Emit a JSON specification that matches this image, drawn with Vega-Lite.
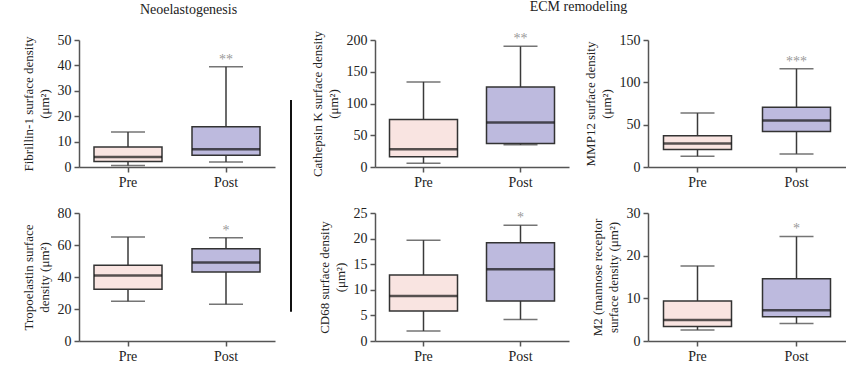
{
  "$schema": "https://vega.github.io/schema/vega-lite/v6.json",
  "background": "white",
  "padding": {"left": 21, "top": 0, "right": 0, "bottom": 0},
  "datasets": {
    "boxes": [
      {"panel": "Fibrillin", "group": "Pre", "min": 0.6, "q1": 2.2, "median": 3.9, "q3": 7.9, "max": 13.8, "sig": ""},
      {"panel": "Fibrillin", "group": "Post", "min": 2, "q1": 4.6, "median": 7, "q3": 15.8, "max": 39.5, "sig": "**"},
      {"panel": "Tropoelastin", "group": "Pre", "min": 24.8, "q1": 32.3, "median": 41, "q3": 47.3, "max": 65, "sig": ""},
      {"panel": "Tropoelastin", "group": "Post", "min": 23, "q1": 43.1, "median": 49, "q3": 57.7, "max": 64.6, "sig": "*"},
      {"panel": "CathepsinK", "group": "Pre", "min": 6, "q1": 16, "median": 28, "q3": 75, "max": 134, "sig": ""},
      {"panel": "CathepsinK", "group": "Post", "min": 35, "q1": 37, "median": 70, "q3": 126, "max": 190, "sig": "**"},
      {"panel": "CD68", "group": "Pre", "min": 1.95, "q1": 5.85, "median": 8.8, "q3": 12.9, "max": 19.7, "sig": ""},
      {"panel": "CD68", "group": "Post", "min": 4.2, "q1": 7.8, "median": 14, "q3": 19.2, "max": 22.6, "sig": "*"},
      {"panel": "MMP12", "group": "Pre", "min": 12.7, "q1": 20.7, "median": 27.8, "q3": 37, "max": 63.7, "sig": ""},
      {"panel": "MMP12", "group": "Post", "min": 15.5, "q1": 41.8, "median": 55, "q3": 70.5, "max": 116, "sig": "***"},
      {"panel": "M2", "group": "Pre", "min": 2.6, "q1": 3.4, "median": 4.9, "q3": 9.4, "max": 17.6, "sig": ""},
      {"panel": "M2", "group": "Post", "min": 4.1, "q1": 5.7, "median": 7.2, "q3": 14.6, "max": 24.5, "sig": "*"}
    ],
    "separator": [{"pos": 0.25, "start": 0.2, "end": 0.906}]
  },
  "data": {"name": "boxes"},
  "spacing": 14,
  "hconcat": [
    {
      "title": {"text": "Neoelastogenesis", "anchor": "middle", "dx": 40, "offset": 16},
      "spacing": 17,
      "vconcat": [
        {
          "width": 196, "height": 127,
          "transform": [{"filter": {"field": "panel", "equal": "Fibrillin"}}],
          "encoding": {"x": {"field": "group", "type": "nominal", "sort": ["Pre", "Post"], "scale": {"paddingInner": 0, "paddingOuter": 0}, "axis": {"title": null, "labelAngle": 0}}},
          "layer": [
            {"mark": {"type": "rule", "color": "#3a3a3a", "strokeWidth": 1.5}, "encoding": {"y": {"field": "min", "type": "quantitative", "scale": {"domain": [0, 50], "nice": false}, "axis": {"title": ["Fibrillin-1 surface density", "(μm²)"], "values": [0, 10, 20, 30, 40, 50]}}, "y2": {"field": "max"}}},
            {"mark": {"type": "bar", "size": 68, "stroke": "#333", "strokeWidth": 1.5}, "encoding": {"y": {"field": "q1", "type": "quantitative", "axis": {"title": ["Fibrillin-1 surface density", "(μm²)"], "values": [0, 10, 20, 30, 40, 50]}}, "y2": {"field": "q3"}, "fill": {"field": "group", "type": "nominal", "scale": {"domain": ["Pre", "Post"], "range": ["#f9e4e1", "#bdbade"]}, "legend": null}}},
            {"mark": {"type": "tick", "color": "#111", "thickness": 2.5, "size": 68}, "encoding": {"y": {"field": "median", "type": "quantitative", "axis": {"title": ["Fibrillin-1 surface density", "(μm²)"], "values": [0, 10, 20, 30, 40, 50]}}}},
            {"mark": {"type": "tick", "color": "#3a3a3a", "thickness": 1.5, "size": 34}, "encoding": {"y": {"field": "min", "type": "quantitative", "axis": {"title": ["Fibrillin-1 surface density", "(μm²)"], "values": [0, 10, 20, 30, 40, 50]}}}},
            {"mark": {"type": "tick", "color": "#3a3a3a", "thickness": 1.5, "size": 34}, "encoding": {"y": {"field": "max", "type": "quantitative", "axis": {"title": ["Fibrillin-1 surface density", "(μm²)"], "values": [0, 10, 20, 30, 40, 50]}}}},
            {"mark": {"type": "text", "color": "#999", "fontSize": 14, "baseline": "bottom", "dy": 0}, "encoding": {"y": {"field": "max", "type": "quantitative", "axis": {"title": ["Fibrillin-1 surface density", "(μm²)"], "values": [0, 10, 20, 30, 40, 50]}}, "text": {"field": "sig", "type": "nominal"}}}
          ]
        },
        {
          "width": 196, "height": 128,
          "transform": [{"filter": {"field": "panel", "equal": "Tropoelastin"}}],
          "encoding": {"x": {"field": "group", "type": "nominal", "sort": ["Pre", "Post"], "scale": {"paddingInner": 0, "paddingOuter": 0}, "axis": {"title": null, "labelAngle": 0}}},
          "layer": [
            {"mark": {"type": "rule", "color": "#3a3a3a", "strokeWidth": 1.5}, "encoding": {"y": {"field": "min", "type": "quantitative", "scale": {"domain": [0, 80], "nice": false}, "axis": {"title": ["Tropoelastin surface", "density (μm²)"], "values": [0, 20, 40, 60, 80]}}, "y2": {"field": "max"}}},
            {"mark": {"type": "bar", "size": 68, "stroke": "#333", "strokeWidth": 1.5}, "encoding": {"y": {"field": "q1", "type": "quantitative", "axis": {"title": ["Tropoelastin surface", "density (μm²)"], "values": [0, 20, 40, 60, 80]}}, "y2": {"field": "q3"}, "fill": {"field": "group", "type": "nominal", "scale": {"domain": ["Pre", "Post"], "range": ["#f9e4e1", "#bdbade"]}, "legend": null}}},
            {"mark": {"type": "tick", "color": "#111", "thickness": 2.5, "size": 68}, "encoding": {"y": {"field": "median", "type": "quantitative", "axis": {"title": ["Tropoelastin surface", "density (μm²)"], "values": [0, 20, 40, 60, 80]}}}},
            {"mark": {"type": "tick", "color": "#3a3a3a", "thickness": 1.5, "size": 34}, "encoding": {"y": {"field": "min", "type": "quantitative", "axis": {"title": ["Tropoelastin surface", "density (μm²)"], "values": [0, 20, 40, 60, 80]}}}},
            {"mark": {"type": "tick", "color": "#3a3a3a", "thickness": 1.5, "size": 34}, "encoding": {"y": {"field": "max", "type": "quantitative", "axis": {"title": ["Tropoelastin surface", "density (μm²)"], "values": [0, 20, 40, 60, 80]}}}},
            {"mark": {"type": "text", "color": "#999", "fontSize": 14, "baseline": "bottom", "dy": 0}, "encoding": {"y": {"field": "max", "type": "quantitative", "axis": {"title": ["Tropoelastin surface", "density (μm²)"], "values": [0, 20, 40, 60, 80]}}, "text": {"field": "sig", "type": "nominal"}}}
          ]
        }
      ]
    },
    {
      "width": 8, "height": 300,
      "data": {"name": "separator"},
      "mark": {"type": "rule", "color": "#111", "strokeWidth": 2},
      "encoding": {
        "x": {"field": "pos", "type": "quantitative", "scale": {"domain": [0, 1], "nice": false}, "axis": null},
        "y": {"field": "start", "type": "quantitative", "scale": {"domain": [0, 1], "reverse": true, "nice": false}, "axis": null},
        "y2": {"field": "end"}
      }
    },
    {
      "title": {"text": "ECM remodeling", "anchor": "middle", "offset": 16},
      "spacing": 15,
      "hconcat": [
        {
          "spacing": 17,
          "vconcat": [
            {
              "width": 194, "height": 127,
              "transform": [{"filter": {"field": "panel", "equal": "CathepsinK"}}],
              "encoding": {"x": {"field": "group", "type": "nominal", "sort": ["Pre", "Post"], "scale": {"paddingInner": 0, "paddingOuter": 0}, "axis": {"title": null, "labelAngle": 0}}},
              "layer": [
                {"mark": {"type": "rule", "color": "#3a3a3a", "strokeWidth": 1.5}, "encoding": {"y": {"field": "min", "type": "quantitative", "scale": {"domain": [0, 200], "nice": false}, "axis": {"title": ["Cathepsin K surface density", "(μm²)"], "values": [0, 50, 100, 150, 200]}}, "y2": {"field": "max"}}},
                {"mark": {"type": "bar", "size": 68, "stroke": "#333", "strokeWidth": 1.5}, "encoding": {"y": {"field": "q1", "type": "quantitative", "axis": {"title": ["Cathepsin K surface density", "(μm²)"], "values": [0, 50, 100, 150, 200]}}, "y2": {"field": "q3"}, "fill": {"field": "group", "type": "nominal", "scale": {"domain": ["Pre", "Post"], "range": ["#f9e4e1", "#bdbade"]}, "legend": null}}},
                {"mark": {"type": "tick", "color": "#111", "thickness": 2.5, "size": 68}, "encoding": {"y": {"field": "median", "type": "quantitative", "axis": {"title": ["Cathepsin K surface density", "(μm²)"], "values": [0, 50, 100, 150, 200]}}}},
                {"mark": {"type": "tick", "color": "#3a3a3a", "thickness": 1.5, "size": 34}, "encoding": {"y": {"field": "min", "type": "quantitative", "axis": {"title": ["Cathepsin K surface density", "(μm²)"], "values": [0, 50, 100, 150, 200]}}}},
                {"mark": {"type": "tick", "color": "#3a3a3a", "thickness": 1.5, "size": 34}, "encoding": {"y": {"field": "max", "type": "quantitative", "axis": {"title": ["Cathepsin K surface density", "(μm²)"], "values": [0, 50, 100, 150, 200]}}}},
                {"mark": {"type": "text", "color": "#999", "fontSize": 14, "baseline": "bottom", "dy": 0}, "encoding": {"y": {"field": "max", "type": "quantitative", "axis": {"title": ["Cathepsin K surface density", "(μm²)"], "values": [0, 50, 100, 150, 200]}}, "text": {"field": "sig", "type": "nominal"}}}
              ]
            },
            {
              "width": 194, "height": 128,
              "transform": [{"filter": {"field": "panel", "equal": "CD68"}}],
              "encoding": {"x": {"field": "group", "type": "nominal", "sort": ["Pre", "Post"], "scale": {"paddingInner": 0, "paddingOuter": 0}, "axis": {"title": null, "labelAngle": 0}}},
              "layer": [
                {"mark": {"type": "rule", "color": "#3a3a3a", "strokeWidth": 1.5}, "encoding": {"y": {"field": "min", "type": "quantitative", "scale": {"domain": [0, 25], "nice": false}, "axis": {"title": ["CD68 surface density", "(μm²)"], "values": [0, 5, 10, 15, 20, 25]}}, "y2": {"field": "max"}}},
                {"mark": {"type": "bar", "size": 68, "stroke": "#333", "strokeWidth": 1.5}, "encoding": {"y": {"field": "q1", "type": "quantitative", "axis": {"title": ["CD68 surface density", "(μm²)"], "values": [0, 5, 10, 15, 20, 25]}}, "y2": {"field": "q3"}, "fill": {"field": "group", "type": "nominal", "scale": {"domain": ["Pre", "Post"], "range": ["#f9e4e1", "#bdbade"]}, "legend": null}}},
                {"mark": {"type": "tick", "color": "#111", "thickness": 2.5, "size": 68}, "encoding": {"y": {"field": "median", "type": "quantitative", "axis": {"title": ["CD68 surface density", "(μm²)"], "values": [0, 5, 10, 15, 20, 25]}}}},
                {"mark": {"type": "tick", "color": "#3a3a3a", "thickness": 1.5, "size": 34}, "encoding": {"y": {"field": "min", "type": "quantitative", "axis": {"title": ["CD68 surface density", "(μm²)"], "values": [0, 5, 10, 15, 20, 25]}}}},
                {"mark": {"type": "tick", "color": "#3a3a3a", "thickness": 1.5, "size": 34}, "encoding": {"y": {"field": "max", "type": "quantitative", "axis": {"title": ["CD68 surface density", "(μm²)"], "values": [0, 5, 10, 15, 20, 25]}}}},
                {"mark": {"type": "text", "color": "#999", "fontSize": 14, "baseline": "bottom", "dy": 0}, "encoding": {"y": {"field": "max", "type": "quantitative", "axis": {"title": ["CD68 surface density", "(μm²)"], "values": [0, 5, 10, 15, 20, 25]}}, "text": {"field": "sig", "type": "nominal"}}}
              ]
            }
          ]
        },
        {
          "spacing": 17,
          "vconcat": [
            {
              "width": 198, "height": 127,
              "transform": [{"filter": {"field": "panel", "equal": "MMP12"}}],
              "encoding": {"x": {"field": "group", "type": "nominal", "sort": ["Pre", "Post"], "scale": {"paddingInner": 0, "paddingOuter": 0}, "axis": {"title": null, "labelAngle": 0}}},
              "layer": [
                {"mark": {"type": "rule", "color": "#3a3a3a", "strokeWidth": 1.5}, "encoding": {"y": {"field": "min", "type": "quantitative", "scale": {"domain": [0, 150], "nice": false}, "axis": {"title": ["MMP12 surface density", "(μm²)"], "values": [0, 50, 100, 150]}}, "y2": {"field": "max"}}},
                {"mark": {"type": "bar", "size": 68, "stroke": "#333", "strokeWidth": 1.5}, "encoding": {"y": {"field": "q1", "type": "quantitative", "axis": {"title": ["MMP12 surface density", "(μm²)"], "values": [0, 50, 100, 150]}}, "y2": {"field": "q3"}, "fill": {"field": "group", "type": "nominal", "scale": {"domain": ["Pre", "Post"], "range": ["#f9e4e1", "#bdbade"]}, "legend": null}}},
                {"mark": {"type": "tick", "color": "#111", "thickness": 2.5, "size": 68}, "encoding": {"y": {"field": "median", "type": "quantitative", "axis": {"title": ["MMP12 surface density", "(μm²)"], "values": [0, 50, 100, 150]}}}},
                {"mark": {"type": "tick", "color": "#3a3a3a", "thickness": 1.5, "size": 34}, "encoding": {"y": {"field": "min", "type": "quantitative", "axis": {"title": ["MMP12 surface density", "(μm²)"], "values": [0, 50, 100, 150]}}}},
                {"mark": {"type": "tick", "color": "#3a3a3a", "thickness": 1.5, "size": 34}, "encoding": {"y": {"field": "max", "type": "quantitative", "axis": {"title": ["MMP12 surface density", "(μm²)"], "values": [0, 50, 100, 150]}}}},
                {"mark": {"type": "text", "color": "#999", "fontSize": 14, "baseline": "bottom", "dy": 0}, "encoding": {"y": {"field": "max", "type": "quantitative", "axis": {"title": ["MMP12 surface density", "(μm²)"], "values": [0, 50, 100, 150]}}, "text": {"field": "sig", "type": "nominal"}}}
              ]
            },
            {
              "width": 198, "height": 128,
              "transform": [{"filter": {"field": "panel", "equal": "M2"}}],
              "encoding": {"x": {"field": "group", "type": "nominal", "sort": ["Pre", "Post"], "scale": {"paddingInner": 0, "paddingOuter": 0}, "axis": {"title": null, "labelAngle": 0}}},
              "layer": [
                {"mark": {"type": "rule", "color": "#3a3a3a", "strokeWidth": 1.5}, "encoding": {"y": {"field": "min", "type": "quantitative", "scale": {"domain": [0, 30], "nice": false}, "axis": {"title": ["M2 (mannose receptor", "surface density (μm²)"], "values": [0, 10, 20, 30]}}, "y2": {"field": "max"}}},
                {"mark": {"type": "bar", "size": 68, "stroke": "#333", "strokeWidth": 1.5}, "encoding": {"y": {"field": "q1", "type": "quantitative", "axis": {"title": ["M2 (mannose receptor", "surface density (μm²)"], "values": [0, 10, 20, 30]}}, "y2": {"field": "q3"}, "fill": {"field": "group", "type": "nominal", "scale": {"domain": ["Pre", "Post"], "range": ["#f9e4e1", "#bdbade"]}, "legend": null}}},
                {"mark": {"type": "tick", "color": "#111", "thickness": 2.5, "size": 68}, "encoding": {"y": {"field": "median", "type": "quantitative", "axis": {"title": ["M2 (mannose receptor", "surface density (μm²)"], "values": [0, 10, 20, 30]}}}},
                {"mark": {"type": "tick", "color": "#3a3a3a", "thickness": 1.5, "size": 34}, "encoding": {"y": {"field": "min", "type": "quantitative", "axis": {"title": ["M2 (mannose receptor", "surface density (μm²)"], "values": [0, 10, 20, 30]}}}},
                {"mark": {"type": "tick", "color": "#3a3a3a", "thickness": 1.5, "size": 34}, "encoding": {"y": {"field": "max", "type": "quantitative", "axis": {"title": ["M2 (mannose receptor", "surface density (μm²)"], "values": [0, 10, 20, 30]}}}},
                {"mark": {"type": "text", "color": "#999", "fontSize": 14, "baseline": "bottom", "dy": 0}, "encoding": {"y": {"field": "max", "type": "quantitative", "axis": {"title": ["M2 (mannose receptor", "surface density (μm²)"], "values": [0, 10, 20, 30]}}, "text": {"field": "sig", "type": "nominal"}}}
              ]
            }
          ]
        }
      ]
    }
  ],
  "config": {
    "font": "Liberation Serif, Times New Roman, serif",
    "view": {"stroke": null},
    "axis": {
      "labelFont": "Liberation Serif, Times New Roman, serif", "titleFont": "Liberation Serif, Times New Roman, serif",
      "labelFontSize": 14, "titleFontSize": 13, "titleFontWeight": "normal",
      "labelColor": "#222", "titleColor": "#222", "labelOverlap": false, "labelFlush": false,
      "domainColor": "#555", "tickColor": "#555", "domainWidth": 1.5, "tickWidth": 1.5,
      "tickSize": 5, "grid": false, "labelPadding": 3, "titlePadding": 6, "titleLineHeight": 16
    },
    "title": {"font": "Liberation Serif, Times New Roman, serif", "fontSize": 14, "fontWeight": "normal", "color": "#222"}
  }
}
